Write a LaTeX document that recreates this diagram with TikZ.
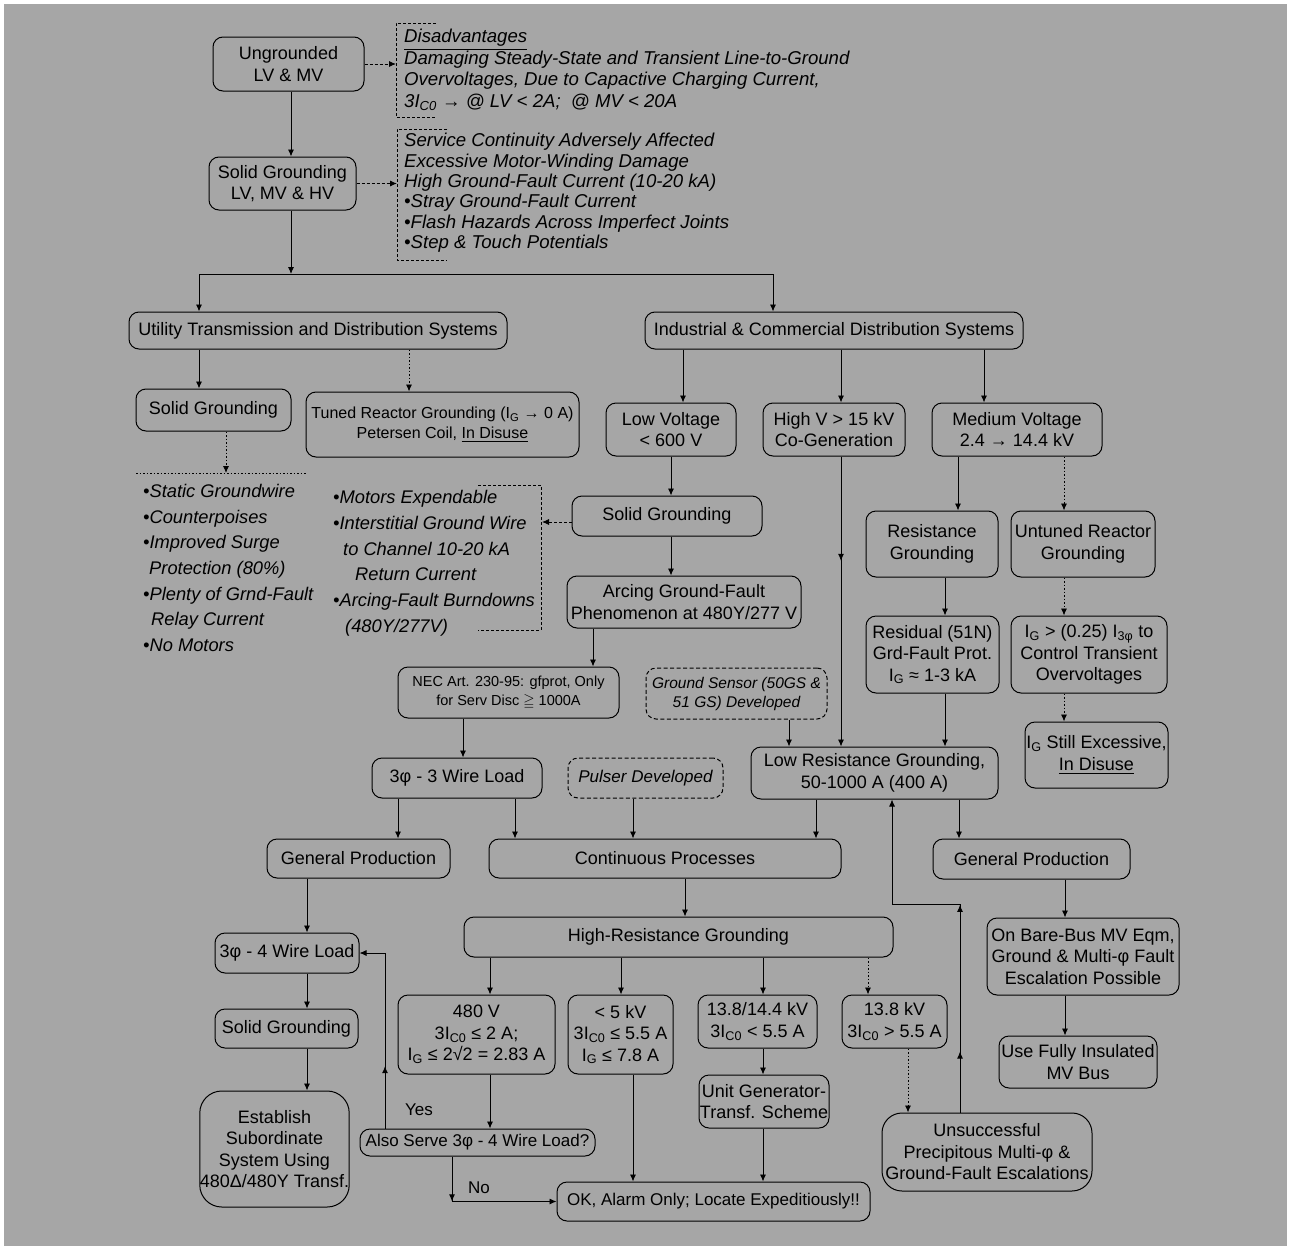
\documentclass[tikz,border=0pt]{standalone}
\usepackage{fontspec}
\usepackage{amssymb}
\setmainfont{Liberation Sans}
\usetikzlibrary{arrows.meta,decorations.markings}
\definecolor{bgc}{HTML}{A6A6A6}
\newcommand\fA{\fontsize{18}{21.5}\selectfont}
\newcommand\fB{\fontsize{16}{20}\selectfont}
\newcommand\fC{\fontsize{14.5}{18.5}\selectfont}
\newcommand\fD{\fontsize{17}{20}\selectfont}
\begin{document}
\begin{tikzpicture}[x=1pt,y=-1pt,
  box/.style={draw=black, line width=1pt, rounded corners=10pt, align=center, inner sep=0pt, font=\fA},
  dbox/.style={box, dash pattern=on 4pt off 2.5pt},
  arr/.style={line width=0.9pt, -{Latex[length=7pt,width=6pt]}},
  dotarr/.style={arr, dash pattern=on 1.5pt off 2pt},
  dasharr/.style={arr, dash pattern=on 3pt off 2pt},
  midarr/.style={postaction={decorate,decoration={markings,mark=at position #1 with {\arrow{Latex[length=7pt,width=6pt]}}}}},
  lst/.style={inner sep=0pt, align=left, anchor=north west, font=\fA\itshape},
  lbl/.style={inner sep=0pt, font=\fD},
]
\fill[white] (0,0) rectangle (1291,1250);
\fill[bgc] (4,4) rectangle (1287,1246);
\useasboundingbox (0,0) rectangle (1291,1250);

\foreach \c in {199,226,291,307,385,398,409,452,463,490,515,593,621,633,671,683,685,763,773,789,816,841,868,892,908,945,958,959,960,984,1064,1065}
  \coordinate (X\c) at (\c,0);

% ---- boxes ----
\node[box, minimum width=151, minimum height=54] (ung) at (288.5,64) {Ungrounded\\LV \& MV};
\node[box, minimum width=147, minimum height=53] (sg) at (282.5,183.5) {Solid Grounding\\LV, MV \& HV};
\node[box, minimum width=378, minimum height=37] (util) at (318,330.5) {Utility Transmission and Distribution Systems};
\node[box, minimum width=378, minimum height=37] (ind) at (834,330.5) {Industrial \& Commercial Distribution Systems};
\node[box, minimum width=155, minimum height=42] (sgu) at (213.5,410) {Solid Grounding};
\node[box, font=\fB, minimum width=273, minimum height=65] (tuned) at (442.5,424.5) {Tuned Reactor Grounding (I\textsubscript{G} → 0 A)\\Petersen Coil, \underline{In Disuse}};
\node[box, minimum width=130, minimum height=53] (lv) at (671,429.5) {Low Voltage\\< 600 V};
\node[box, minimum width=142, minimum height=53] (hv) at (834,429.5) {High V > 15 kV\\Co-Generation};
\node[box, minimum width=170, minimum height=53] (mv) at (1017,429.5) {Medium Voltage\\2.4 → 14.4 kV};
\node[box, minimum width=190, minimum height=40] (sgi) at (667,516) {Solid Grounding};
\node[box, minimum width=234, minimum height=52] (arc) at (684,602) {Arcing Ground-Fault\\Phenomenon at 480Y/277 V};
\node[box, minimum width=132, minimum height=66] (rg) at (932,544) {Resistance\\Grounding};
\node[box, minimum width=144, minimum height=66] (ur) at (1083,544) {Untuned Reactor\\Grounding};
\node[box, minimum width=133, minimum height=77] (res) at (932.5,654.5) {Residual (51N)\\Grd-Fault Prot.\\I\textsubscript{G} ≈ 1-3 kA};
\node[box, minimum width=156, minimum height=77] (igc) at (1089,654.5) {I\textsubscript{G} > (0.25) I\textsubscript{3φ} to\\Control Transient\\Overvoltages};
\node[box, font=\fC, minimum width=221, minimum height=51] (nec) at (508.5,692.5) {NEC Art. 230-95: gfprot, Only\\for Serv Disc $\geqq$ 1000A};
\node[dbox, font=\fontsize{15.5}{19}\selectfont\itshape, minimum width=181, minimum height=51] (gs) at (736.5,693.5) {Ground Sensor (50GS \&\\51 GS) Developed};
\node[box, minimum width=143, minimum height=66] (igs) at (1096.5,755) {I\textsubscript{G} Still Excessive,\\\underline{In Disuse}};
\node[box, minimum width=247, minimum height=52] (lr) at (874.5,773) {Low Resistance Grounding,\\50-1000 A (400 A)};
\node[box, minimum width=170, minimum height=40] (w3) at (457,778) {3φ - 3 Wire Load};
\node[dbox, font=\fD\itshape, minimum width=155, minimum height=40] (pul) at (645.5,778) {Pulser Developed};
\node[box, minimum width=183, minimum height=39] (gpl) at (358.5,858.5) {General Production};
\node[box, minimum width=352, minimum height=39] (cp) at (665,858.5) {Continuous Processes};
\node[box, minimum width=197, minimum height=40] (gpr) at (1031.5,859) {General Production};
\node[box, minimum width=144, minimum height=40] (w4) at (287,953) {3φ - 4 Wire Load};
\node[box, minimum width=429, minimum height=40] (hrg) at (678.5,937) {High-Resistance Grounding};
\node[box, minimum width=192, minimum height=77] (obb) at (1083,956.5) {On Bare-Bus MV Eqm,\\Ground \& Multi-φ Fault\\Escalation Possible};
\node[box, minimum width=143, minimum height=39] (sgb) at (286.5,1028.5) {Solid Grounding};
\node[box, minimum width=157, minimum height=79] (v480) at (476.5,1034.5) {480 V\\3I\textsubscript{C0} ≤ 2 A;\\I\textsubscript{G} ≤ 2√2 = 2.83 A};
\node[box, minimum width=105, minimum height=79] (v5) at (620.5,1034.5) {< 5 kV\\3I\textsubscript{C0} ≤ 5.5 A\\I\textsubscript{G} ≤ 7.8 A};
\node[box, minimum width=119, minimum height=53] (v138a) at (757.5,1021.5) {13.8/14.4 kV\\3I\textsubscript{C0} < 5.5 A};
\node[box, minimum width=105, minimum height=53] (v138b) at (894.5,1021.5) {13.8 kV\\3I\textsubscript{C0} > 5.5 A};
\node[box, minimum width=158, minimum height=52] (ufi) at (1078,1062) {Use Fully Insulated\\MV Bus};
\node[box, rounded corners=22pt, minimum width=145, minimum height=116] (est) at (274.5,1149) {Establish\\Subordinate\\System Using\\480Δ/480Y Transf.};
\node[box, minimum width=130, minimum height=53] (ugs) at (764,1101.5) {Unit Generator-\\Transf. Scheme};
\node[box, font=\fD, minimum width=235, minimum height=27] (also) at (477.5,1142.5) {Also Serve 3φ - 4 Wire Load?};
\node[box, font=\fD, minimum width=313, minimum height=39] (ok) at (713.5,1201.5) {OK, Alarm Only; Locate Expeditiously!!};
\node[box, rounded corners=20pt, minimum width=210, minimum height=78] (uns) at (987,1152) {Unsuccessful\\Precipitous Multi-φ \&\\Ground-Fault Escalations};

% ---- text lists ----
\node[lst, font=\fontsize{18.6}{21.6}\selectfont\itshape] (dis1) at (404,29) {\underline{Disadvantages}\\Damaging Steady-State and Transient Line-to-Ground\\Overvoltages, Due to Capactive Charging Current,\\3I\textsubscript{C0} → @ LV < 2A;\ \ @ MV < 20A};
\node[lst, font=\fontsize{18.6}{20.4}\selectfont\itshape] (dis2) at (404,133) {Service Continuity Adversely Affected\\Excessive Motor-Winding Damage\\High Ground-Fault Current (10-20 kA)\\•Stray Ground-Fault Current\\•Flash Hazards Across Imperfect Joints\\•Step \& Touch Potentials};
\node[lst, font=\fontsize{18.3}{25.7}\selectfont\itshape] (ulist) at (143,484) {•Static Groundwire\\•Counterpoises\\•Improved Surge\\\hspace{6pt}Protection (80\%)\\•Plenty of Grnd-Fault\\\hspace{8pt}Relay Current\\•No Motors};
\node[lst, font=\fontsize{18.3}{25.8}\selectfont\itshape] (mlist) at (333,490) {•Motors Expendable\\•Interstitial Ground Wire\\\hspace{10pt}to Channel 10-20 kA\\\hspace{22pt}Return Current\\•Arcing-Fault Burndowns\\\hspace{12pt}(480Y/277V)};

% brackets
\draw[dash pattern=on 3pt off 2pt, line width=0.7pt] (436,23) -- (396,23) -- (396,117) -- (436,117);
\draw[dash pattern=on 3pt off 2pt, line width=0.7pt] (447,129) -- (397,129) -- (397,260) -- (447,260);
\draw[dash pattern=on 3pt off 2pt, line width=0.7pt] (478,485) -- (541,485) -- (541,630) -- (478,630);
\draw[dash pattern=on 1.5pt off 2pt, line width=0.7pt] (136,473) -- (306,473);

\coordinate (d1) at (396,64);
\coordinate (d2) at (397,183.5);
\coordinate (mi) at (542,522);
\coordinate (ul) at (226,473);
\coordinate (J1) at (291,274);
\coordinate (c1) at (960,904);
\coordinate (c2) at (892,904);

% ---- connectors ----
\draw[dasharr] (ung.east) -- (d1);
\draw[dasharr] (sg.east) -- (d2);
\draw[arr] (ung.south -| X291) -- (sg.north -| X291);
\draw[arr] (sg.south -| X291) -- (J1);
\draw[arr] (J1) -| (util.north -| X199);
\draw[arr] (J1) -| (ind.north -| X773);
\draw[arr] (util.south -| X199) -- (sgu.north -| X199);
\draw[dotarr] (util.south -| X409) -- (tuned.north -| X409);
\draw[dotarr] (sgu.south -| X226) -- (ul);
\draw[arr] (ind.south -| X683) -- (lv.north -| X683);
\draw[arr] (ind.south -| X841) -- (hv.north -| X841);
\draw[arr] (ind.south -| X984) -- (mv.north -| X984);
\draw[arr] (lv.south -| X671) -- (sgi.north -| X671);
\draw[dasharr] (sgi.west |- mi) -- (mi);
\draw[arr] (sgi.south -| X671) -- (arc.north -| X671);
\draw[arr] (arc.south -| X593) -- (nec.north -| X593);
\draw[arr, midarr=0.36] (hv.south -| X841) -- (lr.north -| X841);
\draw[arr] (gs.south -| X789) -- (lr.north -| X789);
\draw[arr] (mv.south -| X958) -- (rg.north -| X958);
\draw[dotarr] (mv.south -| X1064) -- (ur.north -| X1064);
\draw[arr] (rg.south -| X945) -- (res.north -| X945);
\draw[dotarr] (ur.south -| X1064) -- (igc.north -| X1064);
\draw[dotarr] (igc.south -| X1064) -- (igs.north -| X1064);
\draw[arr] (res.south -| X945) -- (lr.north -| X945);
\draw[arr] (nec.south -| X463) -- (w3.north -| X463);
\draw[arr] (w3.south -| X398) -- (gpl.north -| X398);
\draw[arr] (w3.south -| X515) -- (cp.north -| X515);
\draw[arr] (pul.south -| X633) -- (cp.north -| X633);
\draw[arr] (lr.south -| X816) -- (cp.north -| X816);
\draw[arr] (lr.south -| X959) -- (gpr.north -| X959);
\draw[arr, midarr=0.16, midarr=0.545] (uns.north -| X960) -- (c1) -- (c2) -- (lr.south -| X892);
\draw[arr] (gpl.south -| X307) -- (w4.north -| X307);
\draw[arr] (cp.south -| X685) -- (hrg.north -| X685);
\draw[arr] (w4.south -| X307) -- (sgb.north -| X307);
\draw[arr] (sgb.south -| X307) -- (est.north -| X307);
\draw[arr] (hrg.south -| X490) -- (v480.north -| X490);
\draw[arr] (hrg.south -| X621) -- (v5.north -| X621);
\draw[arr] (hrg.south -| X763) -- (v138a.north -| X763);
\draw[dotarr] (hrg.south -| X868) -- (v138b.north -| X868);
\draw[arr] (gpr.south -| X1065) -- (obb.north -| X1065);
\draw[arr] (obb.south -| X1065) -- (ufi.north -| X1065);
\draw[arr] (v480.south -| X490) -- (also.north -| X490);
\draw[arr, midarr=0.31] (also.north -| X385) |- (w4.east);
\draw[arr, midarr=0.3] (also.south -| X452) |- (ok.west);
\draw[arr] (v5.south -| X633) -- (ok.north -| X633);
\draw[arr] (v138a.south -| X763) -- (ugs.north -| X763);
\draw[arr] (ugs.south -| X763) -- (ok.north -| X763);
\draw[dotarr] (v138b.south -| X908) -- (uns.north -| X908);

\node[lbl] (yes) at (419,1110) {Yes};
\node[lbl] (no) at (479,1188) {No};
\end{tikzpicture}
\end{document}
